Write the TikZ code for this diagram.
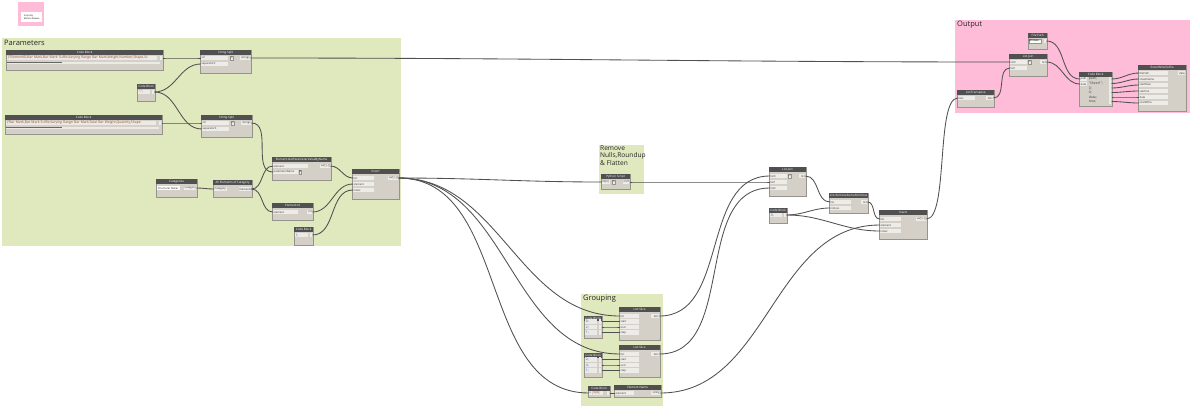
\documentclass[tikz,border=0pt]{standalone}
\usepackage{fontspec}
\setmainfont{Open Sans}
\usetikzlibrary{positioning}

\definecolor{grpgreen}{RGB}{224,232,189}
\definecolor{grppink}{RGB}{255,188,216}
\definecolor{headgray}{RGB}{80,80,80}
\definecolor{bodygray}{RGB}{212,208,200}
\definecolor{edgegray}{RGB}{150,146,140}
\definecolor{portgray}{RGB}{238,236,232}
\definecolor{codegray}{RGB}{236,234,230}
\definecolor{wiregray}{RGB}{80,80,80}
\definecolor{codered}{RGB}{150,70,45}
\definecolor{codeblue}{RGB}{40,90,200}

\newcommand{\headfont}{\fontsize{3}{3.4}\selectfont}
\newcommand{\portfont}{\fontsize{2.7}{3.1}\selectfont}
\newcommand{\codefont}{\fontsize{3.4}{3.8}\selectfont}

\tikzset{
  grp/.style={rectangle, anchor=north west, fill=#1, inner sep=0},
  grptitle/.style={anchor=north west, inner sep=0, font=\fontsize{7.5}{8}\selectfont, text=black!85, align=left},
  dbody/.style={rectangle, anchor=north west, fill=bodygray, draw=edgegray, line width=0.3pt, inner sep=0},
  dhead/.style={rectangle, anchor=north, fill=headgray, text=white, inner sep=0, minimum height=5pt, font=\headfont},
  inport/.style={rectangle, anchor=west, fill=portgray, inner xsep=0.6pt, inner ysep=0, minimum height=4.4pt, text width=#1, align=left, font=\portfont, text=black!80},
  inport/.default=14pt,
  outport/.style={rectangle, anchor=east, fill=portgray, inner xsep=0.6pt, inner ysep=0, minimum height=4.4pt, text width=#1, align=right, font=\portfont, text=black!80},
  outport/.default=6pt,
  codeline/.style={rectangle, anchor=west, fill=codegray, inner xsep=0.6pt, inner ysep=0, minimum height=4.4pt, text width=#1, align=left, font=\codefont, text=codered},
  btn/.style={rectangle, anchor=west, fill=portgray, draw=edgegray, line width=0.2pt, inner sep=0.3pt, minimum height=3.6pt, font=\portfont},
  wire/.style={draw=wiregray, line width=0.85pt, out=0, in=180},
}

\newcommand{\dynnode}[6]{%
  \node[dbody, minimum width=#4pt, minimum height=#5pt] (#1) at (#2,#3) {};
  \node[dhead, minimum width=#4pt] (#1-h) at (#1.north) {#6};}

\begin{document}
\begin{tikzpicture}[x=1pt, y=-1pt]
\useasboundingbox[fill=white] (0,0) rectangle (1200,416);

% groups
\node[grp=grppink, minimum width=26pt, minimum height=24pt] (note) at (18,2) {};
\node[grp=white, minimum width=21pt, minimum height=10pt, font=\fontsize{2.2}{2.8}\selectfont, align=left, inner xsep=1pt] (note-t) at (21,12) {Script By\\Mohsin Rizwan};
\node[grp=grpgreen, minimum width=399pt, minimum height=208pt] (params) at (2,38) {};
\node[grptitle] (params-t) at (4,39.5) {Parameters};
\node[grp=grpgreen, minimum width=45pt, minimum height=49pt] (clean) at (599,145) {};
\node[grptitle, font=\fontsize{6.6}{7.5}\selectfont] (clean-t) at (600,145.5) {Remove\\Nulls,Roundup\\\& Flatten};
\node[grp=grpgreen, minimum width=82pt, minimum height=112pt] (grouping) at (581,294) {};
\node[grptitle] (grouping-t) at (583,295) {Grouping};
\node[grp=grppink, minimum width=235pt, minimum height=93pt] (output) at (955,20) {};
\node[grptitle] (output-t) at (957,21) {Output};

% parameters
\dynnode{cb1}{6}{50}{157}{20}{Code Block}
\node[codeline=149pt] (cb1-txt) at (7,58) {\{"ElementID,Bar Mark,Bar Mark Suffix,Varying Range Bar Mark,Weight,Number,Shape,Sc};
\node[outport=1.5pt] (cb1-out) at (162.5,58) {};
\fill[codegray] (7,61.5) rectangle (160,63.5);
\fill[black!60] (7,61.8) rectangle (62,63.2);

\dynnode{ss1}{200}{50}{51}{23}{String.Split}
\node[inport=26pt] (ss1-str) at (200.8,58) {str};
\node[inport=26pt] (ss1-sep) at (200.8,64) {separator0};
\node[btn] (ss1-b) at (230,58) {+\,-};
\node[outport=9pt] (ss1-out) at (250.5,58) {strings};

\dynnode{cbs1}{137}{84}{18}{17}{Code Block}
\node[codeline=11pt] (cbs1-txt) at (138,92) {",";};
\node[outport=1.5pt] (cbs1-out) at (154.5,92) {};

\dynnode{cb2}{5}{115}{157}{19}{Code Block}
\node[codeline=149pt] (cb2-txt) at (6,123) {\{"Bar Mark,Bar Mark Suffix,Varying Range Bar Mark,Total Bar Weight,Quantity,Shape};
\node[outport=1.5pt] (cb2-out) at (161.5,123) {};
\fill[codegray] (6,126.5) rectangle (159,128.5);
\fill[black!60] (6,126.8) rectangle (62,128.2);

\dynnode{ss2}{201}{115}{51}{22}{String.Split}
\node[inport=26pt] (ss2-str) at (201.8,123) {str};
\node[inport=26pt] (ss2-sep) at (201.8,129) {separator0};
\node[btn] (ss2-b) at (231,123) {+\,-};
\node[outport=9pt] (ss2-out) at (251.5,123) {strings};

\dynnode{cat}{156}{179}{41}{18}{Categories}
\node[inport=22pt, fill=white] (cat-dd) at (157,188) {Structural Rebar};
\node[outport=11pt] (cat-out) at (196.5,188) {Category};

\dynnode{ae}{213}{180}{39}{17}{All Elements of Category}
\node[inport=12pt] (ae-in) at (213.8,189) {Category};
\node[outport=11pt] (ae-out) at (251.5,189) {Elements};

\dynnode{gp}{272}{157}{59}{23}{Element.GetParameterValueByName}
\node[inport=34pt] (gp-el) at (272.8,166) {element};
\node[inport=24pt] (gp-pn) at (272.8,172) {parameterName};
\node[btn] (gp-b) at (299,172) {0};
\node[outport=9pt] (gp-out) at (330.5,166) {var[]..[]};

\dynnode{eid}{272}{203}{41}{17}{Element.Id}
\node[inport=24pt] (eid-in) at (272.8,212) {element};
\node[outport=4pt] (eid-out) at (312.5,212) {int};

\dynnode{cbs2}{294}{227}{19}{18}{Code Block}
\node[codeline=12pt, text=codeblue] (cbs2-txt) at (295,235) {1;};
\node[outport=1.5pt] (cbs2-out) at (312.5,235) {};

\dynnode{ins}{352}{169}{47}{30}{Insert}
\node[inport=20pt] (ins-list) at (352.8,178) {list};
\node[inport=20pt] (ins-el) at (352.8,184) {element};
\node[inport=20pt] (ins-idx) at (352.8,190) {index};
\node[outport=9pt] (ins-out) at (398.5,178) {var[]..[]};

% python
\dynnode{py}{601}{174}{29}{15}{Python Script}
\node[inport=7pt] (py-in) at (601.8,182) {IN[0]};
\node[btn] (py-b) at (612,182) {+\,-};
\node[outport=5pt] (py-out) at (629.5,182) {OUT};

% grouping
\dynnode{sl1}{619}{307}{41}{33}{List.Slice}
\node[inport=18pt] (sl1-list) at (619.8,316) {list};
\node[inport=18pt] (sl1-start) at (619.8,321.5) {start};
\node[inport=18pt] (sl1-end) at (619.8,327) {end};
\node[inport=18pt] (sl1-step) at (619.8,332.5) {step};
\node[outport=7pt] (sl1-out) at (659.5,316) {lists};

\dynnode{cbg1}{584}{316}{18}{22}{Code Block}
\foreach \i/\y/\t in {1/321.5/0;, 2/327/2;, 3/332.5/1;} {
  \node[codeline=11pt, text=codeblue] (cbg1-t\i) at (585,\y) {\t};
  \node[outport=1.5pt] (cbg1-o\i) at (601.5,\y) {};
}

\dynnode{sl2}{619}{345}{41}{32}{List.Slice}
\node[inport=18pt] (sl2-list) at (619.8,354) {list};
\node[inport=18pt] (sl2-start) at (619.8,359.5) {start};
\node[inport=18pt] (sl2-end) at (619.8,365) {end};
\node[inport=18pt] (sl2-step) at (619.8,370.5) {step};
\node[outport=7pt] (sl2-out) at (659.5,354) {lists};

\dynnode{cbg2}{584}{353}{18}{24}{Code Block}
\foreach \i/\y/\t in {1/359.5/2;, 2/365/4;, 3/370.5/1;} {
  \node[codeline=11pt, text=codeblue] (cbg2-t\i) at (585,\y) {\t};
  \node[outport=1.5pt] (cbg2-o\i) at (601.5,\y) {};
}

\dynnode{cbg3}{588}{386}{22}{11}{Code Block}
\node[inport=2pt] (cbg3-in) at (588.8,393) {x};
\node[codeline=9pt] (cbg3-txt) at (592.5,393) {x[0];};
\node[outport=1.5pt] (cbg3-out) at (609.5,393) {};

\dynnode{en}{614}{385}{47}{12}{Element.Name}
\node[inport=18pt] (en-in) at (614.8,393) {element};
\node[outport=8pt] (en-out) at (660.5,393) {string};

% joining and cleanup
\dynnode{lj1}{769}{167}{37}{29}{List.Join}
\node[inport=16pt] (lj1-l0) at (769.8,176) {list0};
\node[inport=16pt] (lj1-l1) at (769.8,182) {list1};
\node[inport=16pt] (lj1-l2) at (769.8,188) {list2};
\node[btn] (lj1-b) at (788,176) {+\,-};
\node[outport=5pt] (lj1-out) at (805.5,176) {list};

\dynnode{ri}{829}{193}{39}{20}{List.RemoveItemsAtIndices}
\node[inport=20pt] (ri-list) at (829.8,202) {list};
\node[inport=20pt] (ri-idx) at (829.8,208) {indices};
\node[outport=5pt] (ri-out) at (867.5,202) {list};

\dynnode{cb3}{769}{208}{18}{15}{Code Block}
\node[codeline=11pt, text=codeblue] (cb3-txt) at (770,215) {0;};
\node[outport=1.5pt] (cb3-out) at (786.5,215) {};

\dynnode{ins2}{879}{210}{48}{29}{Insert}
\node[inport=20pt] (ins2-list) at (879.8,219) {list};
\node[inport=20pt] (ins2-el) at (879.8,225) {element};
\node[inport=20pt] (ins2-idx) at (879.8,231) {index};
\node[outport=9pt] (ins2-out) at (926.5,219) {var[]..[]};

% output
\dynnode{tr}{957}{90}{37}{17}{List.Transpose}
\node[inport=16pt] (tr-in) at (957.8,98) {lists};
\node[outport=6pt] (tr-out) at (993.5,98) {lists};

\dynnode{lj2}{1009}{54}{38}{22}{List.Join}
\node[inport=16pt] (lj2-l0) at (1009.8,62) {list0};
\node[inport=16pt] (lj2-l1) at (1009.8,68) {list1};
\node[btn] (lj2-b) at (1028,62) {+\,-};
\node[outport=5pt] (lj2-out) at (1046.5,62) {list};

\dynnode{fp}{1028}{33}{19}{16}{File Path}
\node[btn, fill=white] (fp-br) at (1029,41) {Browse...};
\node[outport=1.5pt] (fp-out) at (1046.5,41) {};

\dynnode{cbo}{1079}{72}{33}{34}{Code Block}
\node[inport=6pt] (cbo-path) at (1079.8,79) {path};
\node[inport=6pt] (cbo-data) at (1079.8,84) {data};
\foreach \i/\y/\t in {1/79/path;, 2/83.5/"Sheet1";, 3/88/0;, 4/92.5/0;, 5/97/data;, 6/101.5/true;} {
  \node[codeline=20pt, fill=none, text=black!75] (cbo-t\i) at (1088,\y) {\t};
  \node[outport=1.5pt] (cbo-o\i) at (1111.5,\y) {};
}

\dynnode{xl}{1138}{65}{48}{46}{Excel.WriteToFile}
\foreach \p/\y/\t in {fp/73/filePath, sn/79/sheetName, sr/85/startRow, sc/91/startCol, dt/97/data, ow/103/overWrite} {
  \node[inport=28pt] (xl-\p) at (1138.8,\y) {\t};
}
\node[outport=6pt] (xl-out) at (1185.5,73) {data};

% wires
\draw[wire] (cb1-out.east) to (ss1-str.west);
\draw[wire] (cbs1-out.east) to (ss1-sep.west);
\draw[wire] (cbs1-out.east) to (ss2-sep.west);
\draw[wire] (cb2-out.east) to (ss2-str.west);
\draw[wire] (ss1-out.east) to (lj2-l0.west);
\draw[wire] (ss2-out.east) to (gp-pn.west);
\draw[wire] (cat-out.east) to (ae-in.west);
\draw[wire] (ae-out.east) to (gp-el.west);
\draw[wire] (ae-out.east) to (eid-in.west);
\draw[wire] (gp-out.east) to (ins-list.west);
\draw[wire] (eid-out.east) to (ins-el.west);
\draw[wire] (cbs2-out.east) to (ins-idx.west);
\draw[wire] (ins-out.east) to (py-in.west);
\draw[wire] (ins-out.east) to (sl1-list.west);
\draw[wire] (ins-out.east) to (sl2-list.west);
\draw[wire] (ins-out.east) to (cbg3-in.west);
\foreach \i/\p in {1/start, 2/end, 3/step} {
  \draw[wire] (cbg1-o\i.east) to (sl1-\p.west);
  \draw[wire] (cbg2-o\i.east) to (sl2-\p.west);
}
\draw[wire] (cbg3-out.east) to (en-in.west);
\draw[wire] (sl1-out.east) to (lj1-l0.west);
\draw[wire] (py-out.east) to (lj1-l1.west);
\draw[wire] (sl2-out.east) to (lj1-l2.west);
\draw[wire] (lj1-out.east) to (ri-list.west);
\draw[wire] (cb3-out.east) to (ri-idx.west);
\draw[wire] (cb3-out.east) to (ins2-idx.west);
\draw[wire] (en-out.east) to (ins2-el.west);
\draw[wire] (ri-out.east) to (ins2-list.west);
\draw[wire, looseness=0.45] (ins2-out.east) to (tr-in.west);
\draw[wire] (tr-out.east) to (lj2-l1.west);
\draw[wire] (fp-out.east) to (cbo-path.west);
\draw[wire] (lj2-out.east) to (cbo-data.west);
\foreach \i/\p in {1/fp, 2/sn, 3/sr, 4/sc, 5/dt, 6/ow} {
  \draw[wire] (cbo-o\i.east) to (xl-\p.west);
}
\end{tikzpicture}
\end{document}
